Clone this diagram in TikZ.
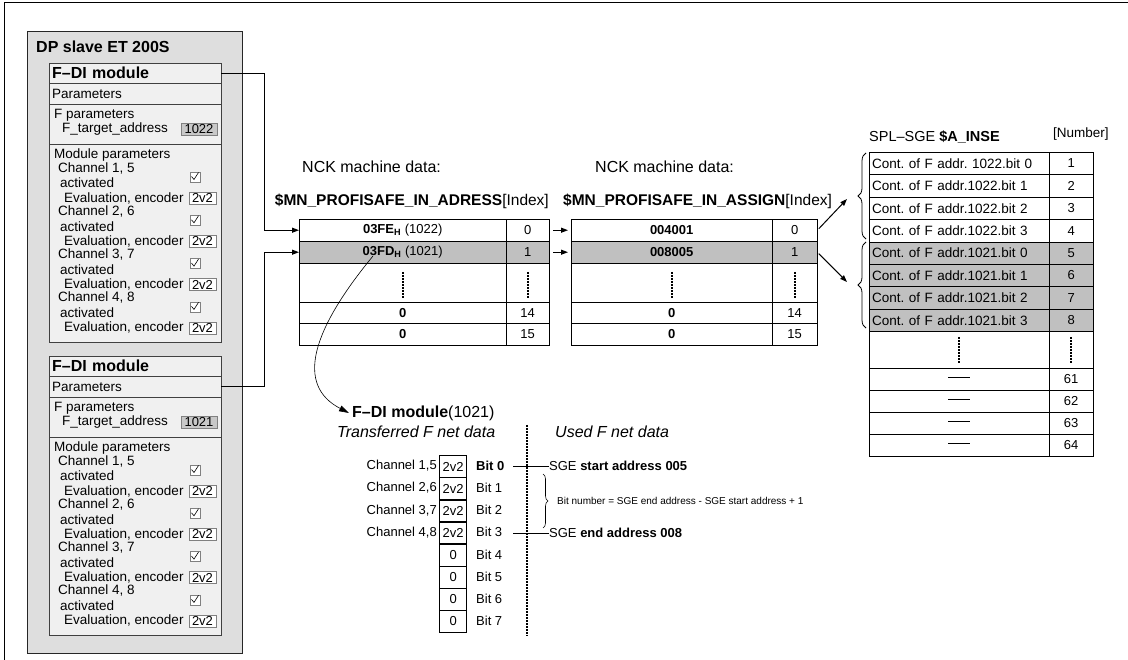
\documentclass[tikz,border=0pt]{standalone}
\usepackage{fontspec}
\setmainfont{Liberation Sans}
\usetikzlibrary{arrows.meta,decorations.pathreplacing}
\frenchspacing

\definecolor{dpgray}{RGB}{222,222,222}
\definecolor{modgray}{RGB}{240,240,240}
\definecolor{rowgray}{RGB}{192,192,192}
\definecolor{valgray}{RGB}{200,200,200}

\tikzset{
  txt/.style={inner sep=0pt, anchor=west, font=\fontsize{13.5}{15}\selectfont},
  bigtxt/.style={inner sep=0pt, anchor=west, font=\fontsize{16}{18}\selectfont},
  rowbox/.style={draw=black!75, fill=modgray, anchor=north west, text width=166pt,
    inner xsep=3pt, inner ysep=0pt, align=left, font=\fontsize{13.5}{15}\selectfont},
  tcell/.style={draw, anchor=north west, inner sep=0pt, font=\fontsize{13}{15}\selectfont},
  valbox/.style={draw=black!50, fill=white, inner sep=0pt, minimum width=27pt,
    minimum height=12pt, font=\fontsize{13}{14}\selectfont},
  chkbox/.style={draw=black!50, fill=white, minimum size=10pt, inner sep=0pt},
  conn/.style={line width=1pt, -{Triangle[length=7pt,width=5pt]}},
  dotline/.style={line width=1.6pt, dash pattern=on 2pt off 1pt},
  bracket/.style={decorate, decoration={brace, amplitude=8pt}, line width=0.8pt}
}

\begin{document}
\begin{tikzpicture}[x=1pt, y=-1pt]
\useasboundingbox (0,0) rectangle (1128,660);
% Frame
\draw[line width=1pt] (4,660) -- (4,3) -- (1128,3);

% DP slave with its two F-DI modules
\node[draw=black!85, line width=1.4pt, fill=dpgray, anchor=north west, minimum width=215pt,
  minimum height=622pt, inner sep=0pt] (dp) at (27,31) {};
\node[bigtxt, font=\bfseries\fontsize{16}{18}\selectfont] (dptitle) at (36,47) {DP slave ET 200S};
\foreach \dy/\adr/\m in {0/1022/1, 293/1021/2}{
  \node[rowbox, minimum height=20pt, font=\bfseries\fontsize{16}{18}\selectfont] (m\m head) at (49,63+\dy) {F--DI module};
  \node[rowbox, minimum height=21pt] (m\m par) at (49,83+\dy) {Parameters};
  \node[rowbox, minimum height=40pt] (m\m fpar) at (49,104+\dy) {};
  \node[rowbox, minimum height=198pt] (m\m mpar) at (49,144+\dy) {};
  \node[txt] (m\m fpt) at (54,115+\dy) {F parameters};
  \node[txt] (m\m tgt) at (62,129+\dy) {F\_target\_address};
  \node[valbox, fill=valgray, minimum width=36pt] (m\m adr) at (199,129+\dy) {\adr};
  \node[txt] (m\m mpt) at (54,155+\dy) {Module parameters};
  \foreach \ca/\cb [count=\k from 0] in {1/5,2/6,3/7,4/8}{
    \node[txt] (m\m ch\k) at (58,168+\dy+43.3*\k) {Channel \ca, \cb};
    \node[txt] (m\m act\k) at (60,183+\dy+43.3*\k) {activated};
    \node[txt] (m\m ev\k) at (64,198+\dy+43.3*\k) {Evaluation, encoder};
    \node[chkbox] (m\m cb\k) at (195,177+\dy+43.3*\k) {};
    \draw[line width=0.6pt] (m\m cb\k.center) ++(-3.5,-0.5) -- ++(2.5,3) -- ++(4.5,-7);
    \node[valbox] (m\m enc\k) at (202.5,198+\dy+43.3*\k) {2v2};
  }
}

% NCK machine data tables
\node[bigtxt] (nck1) at (302,167) {NCK machine data:};
\node[bigtxt] (nck2) at (595,167) {NCK machine data:};
\node[bigtxt, anchor=east, font=\fontsize{15.5}{18}\selectfont] (adrtitle) at (549,201) {\textbf{\$MN\_PROFISAFE\_IN\_ADRESS}[Index]};
\node[bigtxt, font=\fontsize{15.5}{18}\selectfont] (asgtitle) at (563,201) {\textbf{\$MN\_PROFISAFE\_IN\_ASSIGN}[Index]};
\foreach \rn/\ry/\rh/\va/\vb/\ix/\rf in {0/219/22/{\textbf{03FE\textsubscript{H}} (1022)}/\textbf{004001}/0/white,
    1/241/22/{\textbf{03FD\textsubscript{H}} (1021)}/\textbf{008005}/1/rowgray,
    2/263/39/{}/{}/{}/white, 14/302/21/\textbf{0}/\textbf{0}/14/white, 15/323/22/\textbf{0}/\textbf{0}/15/white}{
  \node[tcell, fill=\rf, minimum width=207pt, minimum height=\rh pt] (a\rn) at (299,\ry) {\va};
  \node[tcell, fill=\rf, minimum width=43pt, minimum height=\rh pt] (a\rn i) at (506,\ry) {\ix};
  \node[tcell, fill=\rf, minimum width=201pt, minimum height=\rh pt] (b\rn) at (571,\ry) {\vb};
  \node[tcell, fill=\rf, minimum width=45pt, minimum height=\rh pt] (b\rn i) at (772,\ry) {\ix};
}
\foreach \c in {a2,a2i,b2,b2i}
  \draw[dotline] ([yshift=-9pt]\c.north) -- ([yshift=4pt]\c.south);

% SPL-SGE table
\node[txt, font=\fontsize{14.5}{16}\selectfont] (spltitle) at (869,137) {SPL--SGE \textbf{\$A\_INSE}};
\node[txt] (splnum) at (1053,134) {[Number]};
\foreach \ta/\rn/\rf in {addr. 1022.bit 0/1/white, addr.1022.bit 1/2/white, addr.1022.bit 2/3/white,
    addr.1022.bit 3/4/white, addr.1021.bit 0/5/rowgray, addr.1021.bit 1/6/rowgray,
    addr.1021.bit 2/7/rowgray, addr.1021.bit 3/8/rowgray}{
  \node[tcell, fill=\rf, text width=174pt, inner xsep=3pt, align=left, minimum height=22.4pt,
    font=\fontsize{13.5}{15}\selectfont] (s\rn) at (869,129.6+22.4*\rn) {Cont. of F \ta};
  \node[tcell, fill=\rf, minimum width=44pt, minimum height=22.4pt] (s\rn i) at (1049,129.6+22.4*\rn) {\rn};
}
\node[tcell, minimum width=180pt, minimum height=37pt] (s9) at (869,331) {};
\node[tcell, minimum width=44pt, minimum height=37pt] (s9i) at (1049,331) {};
\draw[dotline] ([yshift=-6pt]s9.north) -- ([yshift=5pt]s9.south);
\draw[dotline] ([yshift=-6pt]s9i.north) -- ([yshift=5pt]s9i.south);
\foreach \rn [count=\k from 0] in {61,62,63,64}{
  \node[tcell, minimum width=180pt, minimum height=22pt] (s\rn) at (869,368+22*\k) {\rule[3pt]{22pt}{0.7pt}};
  \node[tcell, minimum width=44pt, minimum height=22pt] (s\rn i) at (1049,368+22*\k) {\rn};
}
\draw[bracket] (866,239) -- (866,153);
\draw[bracket] (866,328) -- (866,242);
\coordinate (brace1) at (847,199);
\coordinate (brace2) at (847,282);

% Connectors
\draw[conn] (m1head.east) -- ++(43,0) |- (a0.west);
\draw[conn] (m2par.east) -- ++(43,0) |- (a1.west);
\draw[conn, shorten <=4pt, shorten >=3pt] (a0i.east) -- (b0.west);
\draw[conn, shorten <=4pt, shorten >=3pt] (a1i.east) -- (b1.west);
\draw[conn, shorten <=2pt] (b0i.east) -- (brace1);
\draw[conn, shorten <=2pt] (b1i.east) -- (brace2);

% F-DI module (1021) net data
\node[bigtxt] (fdi) at (352,413) {\textbf{F--DI module}(1021)};
\node[bigtxt, font=\itshape\fontsize{16}{18}\selectfont] (sent) at (337,432) {Transferred F net data};
\node[bigtxt, font=\itshape\fontsize{16}{18}\selectfont] (used) at (555,432) {Used F net data};
\coordinate (c1021) at (373,256);
\draw[line width=0.6pt, -{Triangle[length=10pt,width=6pt]}] (c1021) .. controls (312,330) and (295,385) .. ([xshift=-3pt]fdi.west);
\draw[dotline, line width=1.3pt] (527,425) -- (527,636);
\foreach \va/\bb [count=\k from 0] in {2v2/\textbf{Bit 0}, 2v2/Bit 1, 2v2/Bit 2, 2v2/Bit 3, 0/Bit 4, 0/Bit 5, 0/Bit 6, 0/Bit 7}{
  \node[tcell, line width=1.3pt, minimum width=27pt, minimum height=22.1pt] (bit\k) at (439,455+22.1*\k) {\va};
  \node[txt, font=\fontsize{13}{15}\selectfont] (bitl\k) at (476,466+22.1*\k) {\bb};
}
\foreach \ca/\cb [count=\k from 0] in {1/5,2/6,3/7,4/8}
  \node[txt, anchor=east, font=\fontsize{13}{15}\selectfont] (chl\k) at (437,466+22.1*\k) {Channel \ca,\cb};
\node[txt, font=\fontsize{13}{15}\selectfont] (sgestart) at (549,466) {SGE \textbf{start address 005}};
\node[txt, font=\fontsize{13}{15}\selectfont] (sgeend) at (549,533) {SGE \textbf{end address 008}};
\draw[line width=0.8pt] (sgestart.west) -- ++(-36,0);
\draw[line width=0.8pt] (sgeend.west) -- ++(-36,0);
\draw[bracket, decoration={amplitude=5pt}, line width=0.6pt] (543,474) -- (543,528);
\node[txt, font=\fontsize{10}{12}\selectfont] (formula) at (557,501) {Bit number = SGE end address - SGE start address + 1};
\end{tikzpicture}
\end{document}
